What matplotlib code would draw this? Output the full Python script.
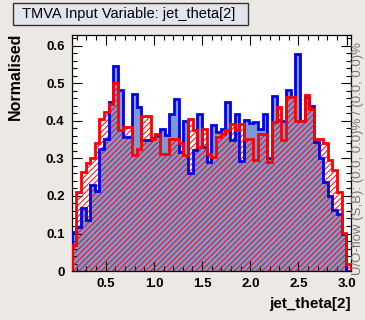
import numpy as np
import matplotlib
matplotlib.use("Agg")
import matplotlib.pyplot as plt
from matplotlib.ticker import MultipleLocator
from matplotlib.patches import FancyBboxPatch

plt.rcParams['font.family'] = ['Liberation Sans', 'DejaVu Sans']
plt.rcParams['hatch.linewidth'] = 0.7
plt.rcParams['hatch.color'] = '#ff0000'

# jet_theta[2] binning (60 bins)
x_min, x_max, n_bins = 0.145, 3.047, 60

# normalised signal / background bin contents
signal = [0.105, 0.118, 0.167, 0.136, 0.230, 0.213, 0.326, 0.353, 0.450, 0.545,
          0.483, 0.357, 0.357, 0.472, 0.437, 0.350, 0.350, 0.355, 0.360, 0.379,
          0.362, 0.419, 0.459, 0.317, 0.400, 0.262, 0.322, 0.419, 0.330, 0.290,
          0.388, 0.371, 0.379, 0.450, 0.348, 0.419, 0.293, 0.403, 0.395, 0.397,
          0.379, 0.419, 0.300, 0.466, 0.403, 0.400, 0.483, 0.464, 0.577, 0.400,
          0.464, 0.440, 0.344, 0.300, 0.238, 0.200, 0.162, 0.152, 0.098, 0.000]
background = [0.069, 0.211, 0.264, 0.288, 0.301, 0.340, 0.406, 0.424, 0.446, 0.500,
              0.375, 0.384, 0.384, 0.308, 0.326, 0.412, 0.412, 0.353, 0.364, 0.311,
              0.311, 0.353, 0.353, 0.340, 0.308, 0.406, 0.375, 0.330, 0.379, 0.311,
              0.304, 0.357, 0.366, 0.375, 0.393, 0.377, 0.393, 0.353, 0.353, 0.295,
              0.366, 0.366, 0.291, 0.397, 0.437, 0.348, 0.464, 0.464, 0.400, 0.400,
              0.468, 0.431, 0.353, 0.353, 0.340, 0.295, 0.270, 0.210, 0.102, 0.020]

edges = np.linspace(x_min, x_max, n_bins + 1)

fig = plt.figure(figsize=(3.65, 3.2), dpi=100)
fig.patch.set_facecolor('#ece9e4')
ax = fig.add_axes([0.196, 0.153, 0.766, 0.739])
ax.set_facecolor('white')

# signal: filled blue
ax.stairs(signal, edges, fill=True, color='#7d99d1', zorder=1)
ax.stairs(signal, edges, color='#0000ee', linewidth=2, zorder=3)
# background: red hatched
ax.stairs(background, edges, fill=True, facecolor='none', edgecolor='#ff0000',
          hatch='//////', linewidth=0, zorder=2)
ax.stairs(background, edges, color='#ff0000', linewidth=2, zorder=4)

ax.set_xlim(x_min, x_max)
ax.set_ylim(0, 0.63)

ax.xaxis.set_major_locator(MultipleLocator(0.5))
ax.xaxis.set_minor_locator(MultipleLocator(0.1))
ax.yaxis.set_major_locator(MultipleLocator(0.1))
ax.yaxis.set_minor_locator(MultipleLocator(0.02))
ax.tick_params(which='both', direction='in', top=True, right=True, width=0.8,
               labelsize=9.5, pad=5)
ax.tick_params(which='major', length=7)
ax.tick_params(which='minor', length=3.5)
for lab in ax.get_xticklabels() + ax.get_yticklabels():
    lab.set_fontweight('bold')
ax.yaxis.set_major_formatter(plt.FuncFormatter(lambda v, p: '0' if v == 0 else f'{v:g}'))
for s in ax.spines.values():
    s.set_linewidth(0.9)

fig.text(0.962, 0.028, 'jet_theta[2]', ha='right', va='bottom',
         fontsize=11, fontweight='bold')
fig.text(0.042, 0.898, 'Normalised', ha='center', va='top', rotation=90,
         fontsize=11.5, fontweight='bold')
fig.text(0.981, 0.14, 'U/O-flow (S,B): (0.0, 0.0)% / (0.0, 0.0)%', ha='center',
         va='bottom', rotation=90, fontsize=9.5, color='#777777')

# title box
box = FancyBboxPatch((13 / 365, 1 - 25 / 320), 235 / 365, 22 / 320,
                     boxstyle='square,pad=0', transform=fig.transFigure,
                     facecolor='#e2e5eb', edgecolor='#333333', linewidth=1)
fig.patches.append(box)
fig.text(129 / 365, 1 - 14 / 320, 'TMVA Input Variable: jet_theta[2]',
         ha='center', va='center', fontsize=10.5)

fig.savefig('out.png', dpi=100, facecolor=fig.get_facecolor())
